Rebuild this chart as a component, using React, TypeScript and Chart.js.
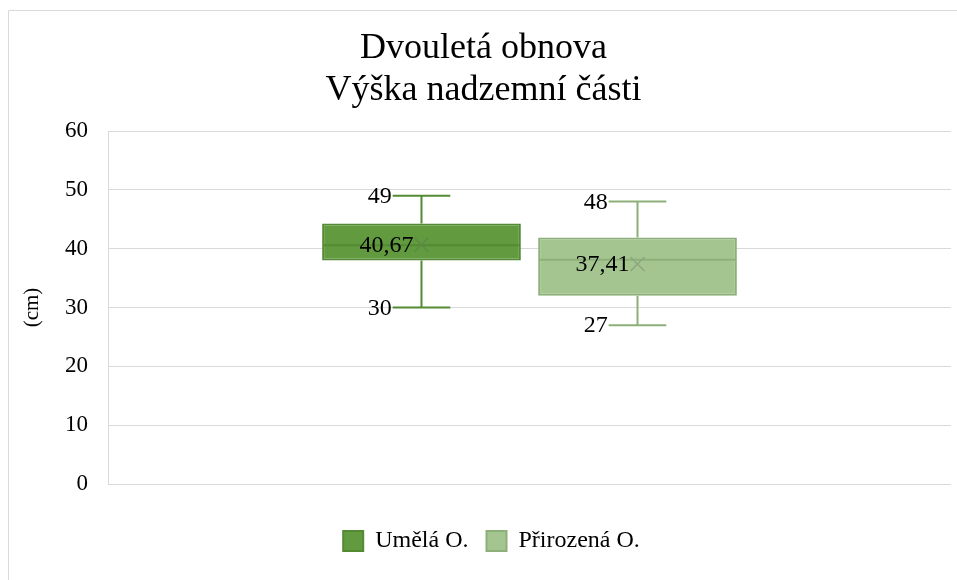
import { useEffect, useRef } from 'react';
import { Chart, registerables } from 'chart.js';

Chart.register(...registerables);

const categories = [''];
const seriesNames = ['Umělá O.', 'Přirozená O.'];
const minValues = [30, 27];
const q1Values = [38, 32];
const medianValues = [40.6, 38.1];
const q3Values = [44.3, 41.9];
const maxValues = [49, 48];
const meanValues = [40.67, 37.41];
const yTickValues = [0, 10, 20, 30, 40, 50, 60];
const titleLines = ['Dvouletá obnova', 'Výška nadzemní části'];
const yAxisTitle = '(cm)';

const fills = ['#629b3f', '#a4c58f'];
const borders = ['#538a33', '#8db07a'];
const markerColors = ['#5e8a45', '#8ea67f'];

const FONT = '"Liberation Serif", "Times New Roman", serif';

const fmt = (v: number) => String(v).replace('.', ',');

const framePlugin = {
  id: 'frame',
  afterLayout(chart: any) {
    if (chart.legend) {
      chart.legend.left += 16;
      chart.legend.right += 16;
    }
    if (chart.titleBlock) {
      chart.titleBlock.left += 8;
      chart.titleBlock.right += 8;
    }
  },
  beforeDraw(chart: any) {
    const ctx = chart.ctx;
    ctx.save();
    ctx.fillStyle = '#ffffff';
    ctx.fillRect(0, 0, chart.width, chart.height);
    ctx.strokeStyle = '#d9d9d9';
    ctx.lineWidth = 1;
    ctx.beginPath();
    ctx.moveTo(8.5, chart.height);
    ctx.lineTo(8.5, 10.5);
    ctx.lineTo(chart.width, 10.5);
    ctx.stroke();
    ctx.restore();
  },
};

const boxPlugin = {
  id: 'boxplot',
  afterDatasetsDraw(chart: any) {
    const ctx = chart.ctx;
    const y = chart.scales.y;
    chart.data.datasets.forEach((_ds: any, i: number) => {
      const meta = chart.getDatasetMeta(i);
      const bar = meta.data[0];
      if (!bar) return;
      const { x, width } = bar.getProps(['x', 'width'], true);
      const half = width / 2;
      const cap = width * 0.145;
      const yMin = y.getPixelForValue(minValues[i]);
      const yQ1 = y.getPixelForValue(q1Values[i]);
      const yMed = y.getPixelForValue(medianValues[i]);
      const yQ3 = y.getPixelForValue(q3Values[i]);
      const yMax = y.getPixelForValue(maxValues[i]);
      const yMean = y.getPixelForValue(meanValues[i]);
      ctx.save();
      ctx.strokeStyle = borders[i];
      ctx.lineWidth = 2;
      ctx.beginPath();
      ctx.moveTo(x, yQ3);
      ctx.lineTo(x, yMax);
      ctx.moveTo(x, yQ1);
      ctx.lineTo(x, yMin);
      ctx.moveTo(x - cap, yMax);
      ctx.lineTo(x + cap, yMax);
      ctx.moveTo(x - cap, yMin);
      ctx.lineTo(x + cap, yMin);
      ctx.moveTo(x - half + 1, yMed);
      ctx.lineTo(x + half - 1, yMed);
      ctx.stroke();

      const m = 7;
      ctx.strokeStyle = markerColors[i];
      ctx.lineWidth = 1.5;
      ctx.beginPath();
      ctx.moveTo(x - m, yMean - m);
      ctx.lineTo(x + m, yMean + m);
      ctx.moveTo(x + m, yMean - m);
      ctx.lineTo(x - m, yMean + m);
      ctx.stroke();

      ctx.fillStyle = '#000';
      ctx.font = `24px ${FONT}`;
      ctx.textAlign = 'right';
      ctx.textBaseline = 'middle';
      ctx.fillText(fmt(maxValues[i]), x - cap - 1, yMax + 1);
      ctx.fillText(fmt(minValues[i]), x - cap - 1, yMin + 1);
      ctx.fillText(fmt(meanValues[i]), x - m - 1, yMean + 1);
      ctx.restore();
    });
  },
};

export default function App() {
  const ref = useRef<HTMLCanvasElement | null>(null);
  useEffect(() => {
    document.body.style.margin = '0';
    const canvas = ref.current;
    if (!canvas) return;
    const chart = new Chart(canvas, {
      type: 'bar',
      data: {
        labels: categories,
        datasets: seriesNames.map((name, i) => ({
          label: name,
          data: [[q1Values[i], q3Values[i]]] as any,
          backgroundColor: fills[i],
          borderColor: borders[i],
          borderWidth: 2,
          borderSkipped: false,
          barPercentage: 0.92,
          categoryPercentage: 0.5125,
        })),
      },
      options: {
        animation: false,
        responsive: false,
        devicePixelRatio: 1,
        layout: { padding: { left: 0, right: 6, top: 0, bottom: 17 } },
        plugins: {
          tooltip: { enabled: false },
          title: {
            display: true,
            text: titleLines,
            color: '#000',
            font: { family: FONT, size: 36, weight: 'normal', lineHeight: 1.167 },
            padding: { top: 28, bottom: 19 },
          },
          legend: {
            position: 'bottom',
            labels: {
              color: '#000',
              font: { family: FONT, size: 24 },
              boxWidth: 20,
              boxHeight: 20,
              padding: 18,
            },
          },
        },
        scales: {
          x: {
            grid: { display: false },
            border: { display: false },
            ticks: { display: false },
            afterFit(s: any) {
              s.height = 27;
            },
          },
          y: {
            min: 0,
            max: 60,
            afterBuildTicks(s: any) {
              s.ticks = yTickValues.map((v) => ({ value: v }));
            },
            grid: { color: '#d9d9d9', lineWidth: 1, drawTicks: false },
            border: { display: true, color: '#d9d9d9', width: 1 },
            ticks: {
              color: '#000',
              padding: 20,
              font: { family: FONT, size: 23 },
            },
            title: {
              display: true,
              text: yAxisTitle,
              color: '#000',
              font: { family: FONT, size: 21 },
              padding: { top: 20, bottom: 0 },
            },
            afterFit(s: any) {
              s.width = 108;
            },
          },
        },
      } as any,
      plugins: [framePlugin, boxPlugin],
    });
    return () => chart.destroy();
  }, []);
  return (
    <div style={{ position: 'absolute', left: 0, top: 0, width: 957, height: 580 }}>
      <canvas ref={ref} width={957} height={580} />
    </div>
  );
}
